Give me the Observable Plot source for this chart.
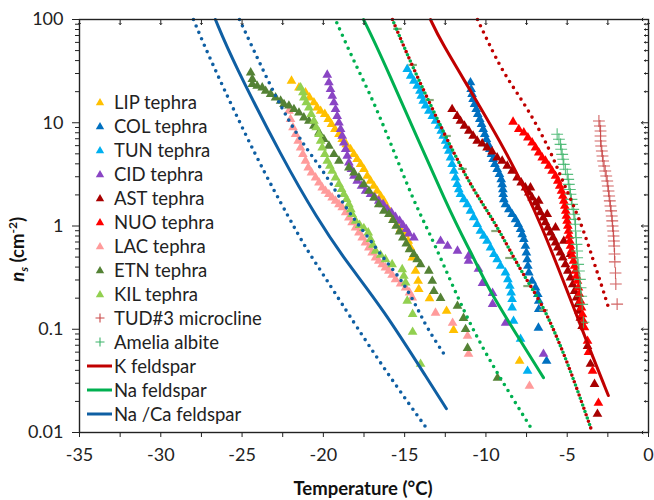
<!DOCTYPE html>
<html>
<head>
<meta charset="utf-8">
<script src="https://cdn.jsdelivr.net/npm/d3@7"></script>
<script src="https://cdn.jsdelivr.net/npm/@observablehq/plot@0.6"></script>
<style>
  body { margin: 0; background: #fff; font-family: Lato, "Open Sans", sans-serif; }
  #wrap { position: relative; width: 654px; height: 500px; }
  #legend { position: absolute; left: 87px; top: 90px; font-size: 18.5px; color: #222; }
  .row { height: 24px; display: flex; align-items: center; white-space: pre; }
  .row svg { width: 27px; height: 24px; flex: none; }
  #ylab { position: absolute; left: -82px; top: 236px; width: 200px; text-align: center;
          transform: rotate(-90deg); font-weight: bold; font-size: 18.5px; color: #111; }
  #xlab { position: absolute; left: 263px; top: 477px; width: 200px; text-align: center;
          font-weight: bold; font-size: 18.5px; color: #111; }
  sub, sup { font-size: 12px; }
</style>
</head>
<body>
<div id="wrap">
  <div id="chart"></div>
  <div id="legend"></div>
  <div id="ylab"><i>n</i><sub><i>s</i></sub> (cm<sup>-2</sup>)</div>
  <div id="xlab">Temperature (°C)</div>
</div>
<script>
// ---------- axis ticks ----------
const xTicks = [-35, -32.5, -30, -27.5, -25, -22.5, -20, -17.5, -15, -12.5, -10, -7.5, -5, -2.5, 0];
const yMajor = [0.01, 0.1, 1, 10, 100];
const yMajorLabels = ["0.01", "0.1", "1", "10", "100"];
const yMinorMult = [2, 3, 4, 5, 6, 7, 8, 9];

// ---------- scatter series (T in °C, ns in cm^-2) ----------
const lipT  = [-21.96,-21.50,-21.10,-20.85,-20.58,-20.38,-20.17,-19.91,-19.70,-19.50,-19.29,-19.04,-18.84,-18.59,-18.33,-18.12,-17.92,-17.71,-17.51,-17.30,-17.10,-16.89,-16.69,-16.48,-16.28,-16.07,-15.87,-15.66,-15.46,-15.25,-14.99,-14.78,-14.64,-14.53,-14.33,-14.17,-14.13,-13.47,-12.42,-11.99,-7.93];
const lipNs = [25.4,21.9,19.6,17.5,15.7,14.0,13.0,12.1,10.8,9.67,8.65,7.73,6.92,6.18,5.53,4.95,4.43,3.96,3.54,3.05,2.73,2.44,2.18,1.95,1.75,1.51,1.35,1.20,1.04,0.929,0.830,0.716,0.617,0.493,0.366,0.293,0.244,0.199,0.150,0.098,0.0492];

const colT  = [-10.95,-10.91,-10.85,-10.79,-10.70,-10.60,-10.50,-10.38,-10.27,-10.17,-10.07,-9.97,-9.86,-9.76,-9.66,-9.56,-9.45,-9.31,-9.17,-9.06,-9.00,-8.96,-8.94,-8.90,-8.80,-8.59,-8.39,-8.18,-8.02,-7.87,-7.77,-7.67,-7.57,-7.51,-7.46,-7.42,-7.36,-7.16,-6.95,-6.81,-6.75,-6.75,-6.77,-6.27];
const colNs = [24.5,21.1,18.9,16.9,15.1,13.5,12.1,10.8,9.67,8.65,7.73,6.92,6.18,5.53,4.95,4.43,3.96,3.54,3.17,2.83,2.53,2.26,2.03,1.81,1.62,1.45,1.30,1.16,1.04,0.929,0.830,0.743,0.640,0.552,0.475,0.410,0.353,0.293,0.253,0.218,0.188,0.156,0.103,0.0492];

const tunT  = [-14.84,-14.63,-14.43,-14.23,-14.06,-13.98,-13.86,-13.71,-13.51,-13.30,-13.10,-12.89,-12.75,-12.63,-12.48,-12.38,-12.28,-12.18,-12.08,-11.97,-11.87,-11.77,-11.67,-11.57,-11.36,-11.15,-10.95,-10.75,-10.54,-10.34,-10.13,-9.93,-9.72,-9.51,-9.31,-9.10,-8.80,-8.65,-8.53,-8.45,-8.39,-8.39,-8.30,-7.87,-7.44];
const tunNs = [33.0,28.4,25.4,22.7,20.3,18.2,16.3,14.6,13.0,11.6,10.4,9.31,8.34,7.45,6.67,5.97,5.33,4.59,3.96,3.41,2.94,2.54,2.26,2.03,1.81,1.62,1.40,1.21,1.04,0.895,0.800,0.716,0.617,0.532,0.475,0.410,0.353,0.304,0.262,0.226,0.195,0.162,0.120,0.0804,0.0394];

const cidT  = [-19.76,-19.66,-19.56,-19.45,-19.35,-19.25,-19.15,-19.04,-18.94,-18.84,-18.74,-18.63,-18.53,-18.43,-18.27,-18.12,-17.92,-17.65,-17.40,-17.10,-16.83,-16.59,-16.32,-16.07,-15.81,-15.56,-15.31,-15.11,-14.90,-14.74,-14.43,-12.79,-12.36,-11.75,-11.07,-11.07,-10.46,-10.21,-9.59,-9.59,-8.79,-6.46];
const cidNs = [29.1,24.5,21.1,18.2,15.7,13.5,11.6,10.0,8.65,7.45,6.42,5.53,4.77,4.11,3.54,3.05,2.73,2.44,2.18,2.03,1.88,1.75,1.62,1.45,1.35,1.22,1.12,1.02,0.929,0.843,0.771,0.716,0.640,0.573,0.512,0.458,0.383,0.280,0.224,0.175,0.115,0.0575];

const astT  = [-12.08,-11.77,-11.57,-11.32,-11.05,-10.79,-10.54,-10.23,-9.93,-9.62,-9.31,-9.00,-8.69,-8.39,-8.08,-7.83,-7.57,-7.36,-7.16,-6.95,-6.81,-6.65,-6.48,-6.34,-6.19,-6.03,-5.87,-5.72,-5.58,-5.42,-5.27,-5.11,-4.96,-4.80,-4.66,-4.55,-4.43,-4.35,-4.27,-4.19,-4.08,-7.26,-6.75,-6.23,-5.72,-5.21,-4.80,-3.75,-3.57,-3.32,-3.14];
const astNs = [13.5,11.6,10.4,9.31,8.34,7.45,6.67,6.28,5.74,5.25,4.59,4.27,3.82,3.41,2.94,2.63,2.35,2.10,1.88,1.68,1.51,1.35,1.20,1.08,0.963,0.863,0.771,0.690,0.617,0.552,0.493,0.425,0.367,0.316,0.272,0.234,0.202,0.174,0.150,0.129,0.107,2.35,1.75,1.30,0.963,0.716,0.532,0.0687,0.046,0.0294,0.0151];

const nuoT  = [-8.33,-7.98,-7.67,-7.42,-7.16,-6.95,-6.75,-6.54,-6.34,-6.13,-5.93,-5.72,-5.58,-5.46,-5.35,-5.27,-5.21,-5.15,-5.09,-5.05,-5.01,-4.96,-4.92,-4.88,-4.84,-4.80,-4.74,-4.68,-4.62,-4.55,-4.49,-4.43,-4.37,-4.31,-4.25,-4.19,-4.12,-4.06,-4.00,-3.94,-3.75,-3.69,-3.44,-3.08];
const nuoNs = [10.2,8.65,8.03,7.18,6.42,5.74,5.14,4.59,4.27,3.82,3.41,3.05,2.73,2.44,2.18,1.95,1.75,1.56,1.40,1.25,1.12,1.00,0.895,0.800,0.716,0.640,0.573,0.512,0.458,0.410,0.367,0.328,0.293,0.253,0.218,0.188,0.162,0.139,0.120,0.104,0.0769,0.0601,0.0394,0.0193];

const lacT  = [-22.12,-22.02,-21.87,-21.71,-21.55,-21.40,-21.26,-21.10,-20.93,-20.73,-20.48,-20.27,-20.07,-19.87,-19.66,-19.46,-19.25,-19.04,-18.84,-18.63,-18.43,-18.23,-18.02,-17.81,-17.61,-17.41,-17.20,-17.00,-16.79,-16.59,-16.38,-16.18,-15.97,-15.77,-15.56,-15.25,-14.94,-14.70,-14.53,-13.10,-12.05,-11.13,-11.07,-7.32];
const lacNs = [13.0,10.8,8.98,7.73,6.67,5.74,4.95,4.27,3.67,3.29,2.94,2.63,2.35,2.18,2.03,1.88,1.75,1.62,1.51,1.35,1.20,1.08,0.963,0.863,0.771,0.690,0.617,0.552,0.493,0.458,0.425,0.395,0.367,0.335,0.304,0.276,0.253,0.226,0.202,0.144,0.115,0.0859,0.0575,0.0282];

const etnT  = [-24.47,-24.37,-24.37,-24.07,-23.76,-23.55,-23.24,-22.94,-22.63,-22.42,-22.12,-21.81,-21.50,-21.20,-20.89,-20.58,-20.27,-19.97,-19.66,-19.35,-19.04,-18.43,-18.12,-17.81,-17.51,-17.20,-16.89,-16.59,-16.28,-15.97,-15.72,-15.52,-15.31,-15.11,-14.90,-14.70,-14.43,-14.23,-14.02,-13.51,-13.30,-13.20,-12.79,-11.75,-11.38,-11.25,-11.13,-9.29];
const etnNs = [30.6,26.4,23.6,22.7,21.9,20.3,18.9,17.5,16.3,15.1,14.6,13.5,12.5,11.2,10.4,9.31,8.03,6.92,5.96,4.95,4.27,3.67,3.29,2.94,2.53,2.18,1.88,1.62,1.40,1.30,1.14,1.00,0.881,0.771,0.674,0.594,0.532,0.475,0.425,0.367,0.293,0.234,0.200,0.168,0.128,0.100,0.0657,0.0337];

const kilT  = [-21.40,-21.26,-21.20,-21.05,-20.89,-20.75,-20.58,-20.44,-20.27,-20.17,-20.07,-19.91,-19.76,-19.60,-19.46,-19.25,-19.04,-18.88,-18.74,-18.57,-18.43,-18.31,-18.23,-18.02,-17.77,-17.51,-17.24,-17.10,-16.95,-16.79,-16.48,-16.18,-15.77,-15.15,-15.05,-14.94,-14.84,-14.51,-14.51,-14.02];
const kilNs = [21.9,19.6,17.5,15.7,14.0,12.1,10.4,8.98,7.73,6.67,5.74,4.95,4.27,3.82,3.41,2.94,2.54,2.27,2.03,1.82,1.62,1.45,1.30,1.12,1.02,0.950,0.863,0.743,0.655,0.573,0.524,0.475,0.425,0.380,0.328,0.283,0.188,0.140,0.094,0.046];

const tudT  = [-3.05,-2.99,-2.95,-2.95,-2.95,-2.91,-2.87,-2.83,-2.79,-2.73,-2.66,-2.60,-2.54,-2.50,-2.46,-2.42,-2.38,-2.34,-2.30,-2.26,-2.23,-2.21,-2.17,-2.15,-2.13,-2.11,-2.09,-2.07,-2.03,-2.01,-1.93];
const tudNs = [10.4,9.31,8.32,7.45,6.65,5.96,5.32,4.76,4.26,3.81,3.41,3.05,2.73,2.44,2.18,1.95,1.75,1.56,1.40,1.25,1.12,1.00,0.894,0.800,0.715,0.640,0.535,0.449,0.350,0.274,0.175];

const ameT  = [-5.62,-5.51,-5.41,-5.37,-5.31,-5.25,-5.21,-5.11,-5.00,-4.94,-4.90,-4.84,-4.80,-4.74,-4.70,-4.63,-4.59,-4.53,-4.49,-4.49,-4.45,-4.43,-4.39,-4.39,-4.33,-4.28,-4.22,-4.18,-4.14,-4.08,-4.00];
const ameNs = [7.73,6.92,6.18,5.53,4.94,4.43,3.95,3.54,3.16,2.83,2.53,2.26,2.03,1.81,1.62,1.45,1.30,1.16,1.04,0.894,0.771,0.664,0.572,0.493,0.425,0.367,0.304,0.252,0.209,0.174,0.117];

// small grey-green dash markers lying along the dotted line
const dashT  = [-15.44,-14.51,-13.47,-12.42,-11.44,-9.41,-8.55,-7.44,-6.46];
const dashNs = [81.1,36.3,16.6,7.45,3.57,0.894,0.490,0.262,0.153];

// ---------- feldspar parameterisations ----------
const kT       = [-13.41,-12.80,-10.95,-8.68,-6.65,-4.00,-2.47];
const kNs      = [100,62.6,20.5,5.03,1.13,0.0906,0.0228];
const kUpT     = [-10.52,-9.91,-8.92,-7.45,-6.03,-5.23,-4.19,-3.39,-2.84,-2.40];
const kUpNs    = [100,62.6,30.0,14.0,5.38,2.58,1.13,0.462,0.253,0.151];
const kLoT     = [-15.75,-14.95,-14.03,-12.37,-10.77,-9.42,-7.88,-6.65,-5.66,-4.68,-3.51];
const kLoNs    = [100,50.1,24.0,6.72,2.20,1.08,0.370,0.189,0.0867,0.0355,0.0106];

const naT      = [-17.53,-16.49,-12.0,-10.95,-9.91,-7.88,-6.46];
const naNs     = [100,46.9,1.13,0.578,0.253,0.0776,0.034];
const naUpT    = [-15.75,-14.95,-14.03,-12.37,-10.77,-9.42,-7.88,-6.65,-5.66,-4.68,-3.51];
const naUpNs   = [100,50.1,24.0,6.72,2.20,1.08,0.370,0.189,0.0867,0.0355,0.0106];
const naLoT    = [-19.26,-18.15,-16.92,-15.44,-14.27,-13.23,-11.14,-9.29,-7.20];
const naLoNs   = [100,40.1,16.4,4.31,1.51,0.723,0.121,0.037,0.0109];

const nacaT    = [-26.64,-25.59,-22.45,-20.40,-18.63,-16.36,-13.41,-12.43];
const nacaNs   = [100,40.1,4.31,1.20,0.458,0.160,0.0297,0.017];
const nacaUpT  = [-25.16,-23.99,-22.52,-21.09,-19.86,-18.63,-17.40,-16.17,-15.13,-14.21,-13.65,-12.43];
const nacaUpNs = [100,40.1,13.1,5.70,3.19,1.49,0.836,0.458,0.293,0.160,0.104,0.053];
const nacaLoT  = [-27.99,-26.94,-24.05,-22.02,-21.09,-19.86,-18.64,-16.06,-13.54];
const nacaLoNs = [100,40.1,4.31,1.13,0.612,0.313,0.155,0.037,0.0104];

// ---------- build tables ----------
const pts = (T, N) => T.map((t, i) => ({T: t, ns: N[i]}));

const scatter = [
  {name: "LIP tephra", data: pts(lipT, lipNs), color: "#FFC000", sym: "tri"},
  {name: "COL tephra", data: pts(colT, colNs), color: "#0070C0", sym: "tri"},
  {name: "TUN tephra", data: pts(tunT, tunNs), color: "#00B0F0", sym: "tri"},
  {name: "CID tephra", data: pts(cidT, cidNs), color: "#8A45C4", sym: "tri"},
  {name: "AST tephra", data: pts(astT, astNs), color: "#A80000", sym: "tri"},
  {name: "NUO tephra", data: pts(nuoT, nuoNs), color: "#FF0000", sym: "tri"},
  {name: "LAC tephra", data: pts(lacT, lacNs), color: "#FF9B9B", sym: "tri"},
  {name: "ETN tephra", data: pts(etnT, etnNs), color: "#548235", sym: "tri"},
  {name: "KIL tephra", data: pts(kilT, kilNs), color: "#92D050", sym: "tri"},
  {name: "TUD#3 microcline", data: pts(tudT, tudNs), color: "#C94848", sym: "plus"},
  {name: "Amelia albite", data: pts(ameT, ameNs), color: "#3DB46A", sym: "plus"}
];

const lines = [
  {name: "K feldspar", color: "#C00000", solid: pts(kT, kNs), up: pts(kUpT, kUpNs), lo: pts(kLoT, kLoNs), off: 0},
  {name: "Na feldspar", color: "#00B050", solid: pts(naT, naNs), up: pts(naUpT, naUpNs), lo: pts(naLoT, naLoNs), off: 3.5},
  {name: "Na /Ca feldspar", color: "#0F5FA3", solid: pts(nacaT, nacaNs), up: pts(nacaUpT, nacaUpNs), lo: pts(nacaLoT, nacaLoNs), off: 0}
];

const yMinor = [];
for (const d of [0.01, 0.1, 1, 10]) for (const m of yMinorMult) yMinor.push(+(d * m).toPrecision(3));

const dashSymbol = {
  draw(ctx, size) {
    const w = Math.sqrt(size / Math.PI) * 1.25;
    ctx.moveTo(-w, 0); ctx.lineTo(w, 0);
  }
};

const marks = [];
for (const s of scatter) {
  if (s.sym === "tri") {
    marks.push(Plot.dot(s.data, {x: "T", y: "ns", symbol: "triangle", fill: s.color, r: 3.6}));
  } else {
    marks.push(Plot.dot(s.data, {x: "T", y: "ns", symbol: "plus", stroke: s.color, strokeWidth: 1.1, r: 3.9, strokeOpacity: 0.85}));
  }
}
marks.push(Plot.dot(pts(dashT, dashNs), {x: "T", y: "ns", symbol: dashSymbol, stroke: "#86A877", strokeWidth: 2.2, fill: "none", r: 3.4}));

for (const l of lines) {
  for (const part of [l.lo, l.up]) {
    marks.push(Plot.line(part, {x: "T", y: "ns", curve: "basis", stroke: l.color, strokeWidth: 3.6,
      strokeDasharray: "0,7", strokeDashoffset: l.off, strokeLinecap: "round"}));
  }
}
for (const l of lines) {
  marks.push(Plot.line(l.solid, {x: "T", y: "ns", curve: "basis", stroke: l.color, strokeWidth: 3}));
}

marks.push(
  Plot.axisX({ticks: xTicks, tickSize: 5, tickPadding: 11, label: null,
    tickFormat: d => (d % 5 === 0 ? String(d) : "")}),
  Plot.axisY({ticks: yMajor, tickSize: 7, tickPadding: 9, label: null,
    tickFormat: d => yMajorLabels[yMajor.indexOf(d)]}),
  Plot.axisY({ticks: yMinor, tickSize: 4, label: null, tickFormat: () => ""}),
  Plot.vector(xTicks, {x: d => d, y: () => 100, length: 5, rotate: 180, anchor: "start", stroke: "#222", strokeWidth: 1}),
  Plot.vector(yMajor, {x: () => 0, y: d => d, length: 7, rotate: 270, anchor: "start", stroke: "#222", strokeWidth: 1}),
  Plot.vector(yMinor, {x: () => 0, y: d => d, length: 4, rotate: 270, anchor: "start", stroke: "#222", strokeWidth: 1}),
  Plot.frame({stroke: "#222", strokeWidth: 1.4})
);

const chart = Plot.plot({
  width: 654,
  height: 500,
  marginLeft: 79,
  marginRight: 6,
  marginTop: 19,
  marginBottom: 68,
  x: {domain: [-35, 0]},
  y: {type: "log", domain: [0.01, 100]},
  style: {fontFamily: "Lato, 'Open Sans', sans-serif", fontSize: "18px", color: "#222", background: "white"},
  marks
});
document.getElementById("chart").appendChild(chart);

// ---------- legend ----------
const legend = document.getElementById("legend");
const ns = "http://www.w3.org/2000/svg";
function swatch(kind, color) {
  const svg = document.createElementNS(ns, "svg");
  svg.setAttribute("viewBox", "0 0 27 24");
  const p = document.createElementNS(ns, "path");
  if (kind === "tri") {
    p.setAttribute("d", "M13,8 L17.2,15.2 L8.8,15.2 Z");
    p.setAttribute("fill", color);
  } else if (kind === "plus") {
    p.setAttribute("d", "M13,7.5 V16.5 M8.5,12 H17.5");
    p.setAttribute("stroke", color);
    p.setAttribute("stroke-width", "1.1");
  } else {
    p.setAttribute("d", "M0,12 H25");
    p.setAttribute("stroke", color);
    p.setAttribute("stroke-width", "3");
  }
  svg.appendChild(p);
  return svg;
}
const entries = scatter.map(s => ({name: s.name, kind: s.sym, color: s.color}))
  .concat(lines.map(l => ({name: l.name, kind: "line", color: l.color})));
for (const e of entries) {
  const row = document.createElement("div");
  row.className = "row";
  row.appendChild(swatch(e.kind, e.color));
  const t = document.createElement("span");
  t.textContent = e.name;
  row.appendChild(t);
  legend.appendChild(row);
}
</script>
</body>
</html>
